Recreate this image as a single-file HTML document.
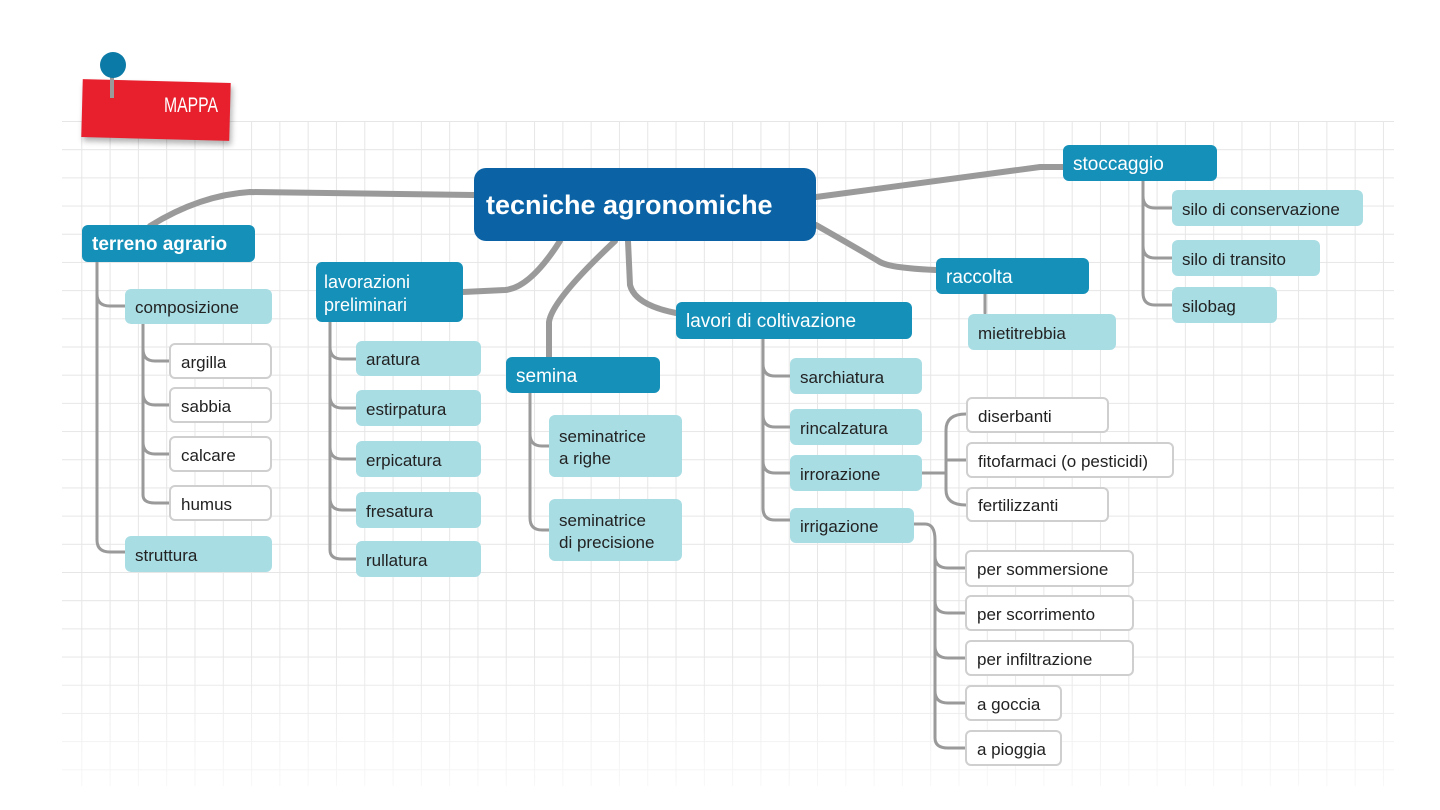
<!DOCTYPE html>
<html><head><meta charset="utf-8"><style>
body{margin:0;width:1440px;height:810px;background:#fff;position:relative;overflow:hidden;font-family:"Liberation Sans",sans-serif}
.grid{position:absolute;left:62px;top:121px;width:1332px;height:665px;
background-image:linear-gradient(#e6e6e6 1px,transparent 1px),linear-gradient(90deg,#e6e6e6 1px,transparent 1px);
background-size:28.3px 28.2px;background-position:-9px 0;
-webkit-mask-image:linear-gradient(#000 80%,rgba(0,0,0,.3));}
.n{position:absolute;box-sizing:border-box;display:flex;align-items:center;padding-left:10px;padding-top:3px;font-size:17px;color:#222;border-radius:6px;line-height:1.25}
.l{background:#a9dde4}
.w{background:#fff;border:2px solid #cfcfcf}
.m{background:#1590b9;color:#fff;font-weight:bold;font-size:19px}
svg{position:absolute;left:0;top:0}
</style></head><body>
<div class="grid"></div>
<svg width="1440" height="810" fill="none" stroke-linecap="round">
<g stroke="#9a9a9a" stroke-width="6">
<path d="M150 226 Q200 195 250 192 L474 195"/>
<path d="M463 292 L505 290 Q530 288 560 241"/>
<path d="M549 357 L549 322 Q552 300 615 241"/>
<path d="M628 241 L630 285 Q635 305 676 313"/>
<path d="M816 225 Q860 250 880 262 Q890 268 936 270"/>
<path d="M816 197 L1040 167 L1063 167"/>
</g>
<g stroke="#9a9a9a" stroke-width="3">
<path d="M97 262 V540 Q97 552 110 552 H125"/><path d="M97 294 Q97 306 110 306 H125"/>
<path d="M143 324 V495 Q143 503 155 503 H169"/><path d="M143 349 Q143 361 155 361 H169"/><path d="M143 393 Q143 405 155 405 H169"/><path d="M143 442 Q143 454 155 454 H169"/>
<path d="M330 322 V550 Q330 559 342 559 H356"/><path d="M330 347 Q330 359 342 359 H356"/><path d="M330 396 Q330 408 342 408 H356"/><path d="M330 447 Q330 459 342 459 H356"/><path d="M330 498 Q330 510 342 510 H356"/>
<path d="M530 393 V518 Q530 530 542 530 H549"/><path d="M530 434 Q530 446 542 446 H549"/>
<path d="M763 339 V508 Q763 520 775 520 H790"/><path d="M763 364 Q763 376 775 376 H790"/><path d="M763 415 Q763 427 775 427 H790"/><path d="M763 461 Q763 473 775 473 H790"/>
<path d="M922 473 H946"/><path d="M966 414 Q946 414 946 430 V490 Q946 505 966 505"/><path d="M946 460 L966 460"/>
<path d="M914 524 H925 Q935 524 935 540 V738 Q935 748 948 748 H965"/><path d="M935 556 Q935 568 948 568 H965"/><path d="M935 601 Q935 613 948 613 H965"/><path d="M935 646 Q935 658 948 658 H965"/><path d="M935 691 Q935 703 948 703 H965"/>
<path d="M985 294 V313"/>
<path d="M1143 181 V293 Q1143 305 1155 305 H1172"/><path d="M1143 196 Q1143 208 1155 208 H1172"/><path d="M1143 246 Q1143 258 1155 258 H1172"/>
</g>
</svg>
<div style="position:absolute;left:82px;top:81px;width:148px;height:58px;background:#e8202e;transform:rotate(1.5deg);box-shadow:2px 4px 6px rgba(0,0,0,.3)"></div>
<div style="position:absolute;left:164px;top:94px;color:#fff;font-size:21px;transform:scaleX(.75);transform-origin:left">MAPPA</div>
<div style="position:absolute;left:110px;top:70px;width:4px;height:28px;background:#9a9a9a"></div>
<div style="position:absolute;left:100px;top:52px;width:26px;height:26px;border-radius:50%;background:#0b7aa6"></div>

<div class="n" style="left:474px;top:168px;width:342px;height:73px;background:#0b63a5;color:#fff;font-weight:bold;font-size:27px;border-radius:12px;padding-left:12px">tecniche agronomiche</div>
<div class="n m" style="left:82px;top:225px;width:173px;height:37px">terreno agrario</div>
<div class="n l" style="left:125px;top:289px;width:147px;height:35px">composizione</div>
<div class="n w" style="left:169px;top:343px;width:103px;height:36px">argilla</div>
<div class="n w" style="left:169px;top:387px;width:103px;height:36px">sabbia</div>
<div class="n w" style="left:169px;top:436px;width:103px;height:36px">calcare</div>
<div class="n w" style="left:169px;top:485px;width:103px;height:36px">humus</div>
<div class="n l" style="left:125px;top:536px;width:147px;height:36px">struttura</div>
<div class="n m" style="left:316px;top:262px;width:147px;height:60px;font-weight:normal;font-size:18px;padding-left:8px">lavorazioni<br>preliminari</div>
<div class="n l" style="left:356px;top:341px;width:125px;height:35px">aratura</div>
<div class="n l" style="left:356px;top:390px;width:125px;height:36px">estirpatura</div>
<div class="n l" style="left:356px;top:441px;width:125px;height:36px">erpicatura</div>
<div class="n l" style="left:356px;top:492px;width:125px;height:36px">fresatura</div>
<div class="n l" style="left:356px;top:541px;width:125px;height:36px">rullatura</div>
<div class="n m" style="left:506px;top:357px;width:154px;height:36px;font-weight:normal">semina</div>
<div class="n l" style="left:549px;top:415px;width:133px;height:62px">seminatrice<br>a righe</div>
<div class="n l" style="left:549px;top:499px;width:133px;height:62px">seminatrice<br>di precisione</div>
<div class="n m" style="left:676px;top:302px;width:236px;height:37px;font-weight:normal">lavori di coltivazione</div>
<div class="n l" style="left:790px;top:358px;width:132px;height:36px">sarchiatura</div>
<div class="n l" style="left:790px;top:409px;width:132px;height:36px">rincalzatura</div>
<div class="n l" style="left:790px;top:455px;width:132px;height:36px">irrorazione</div>
<div class="n l" style="left:790px;top:508px;width:124px;height:35px">irrigazione</div>
<div class="n w" style="left:966px;top:397px;width:143px;height:36px">diserbanti</div>
<div class="n w" style="left:966px;top:442px;width:208px;height:36px">fitofarmaci (o pesticidi)</div>
<div class="n w" style="left:966px;top:487px;width:143px;height:35px">fertilizzanti</div>
<div class="n w" style="left:965px;top:550px;width:169px;height:37px">per sommersione</div>
<div class="n w" style="left:965px;top:595px;width:169px;height:36px">per scorrimento</div>
<div class="n w" style="left:965px;top:640px;width:169px;height:36px">per infiltrazione</div>
<div class="n w" style="left:965px;top:685px;width:97px;height:36px">a goccia</div>
<div class="n w" style="left:965px;top:730px;width:97px;height:36px">a pioggia</div>
<div class="n m" style="left:936px;top:258px;width:153px;height:36px;font-weight:normal">raccolta</div>
<div class="n l" style="left:968px;top:314px;width:148px;height:36px">mietitrebbia</div>
<div class="n m" style="left:1063px;top:145px;width:154px;height:36px;font-weight:normal">stoccaggio</div>
<div class="n l" style="left:1172px;top:190px;width:191px;height:36px">silo di conservazione</div>
<div class="n l" style="left:1172px;top:240px;width:148px;height:36px">silo di transito</div>
<div class="n l" style="left:1172px;top:287px;width:105px;height:36px">silobag</div>
</body></html>
